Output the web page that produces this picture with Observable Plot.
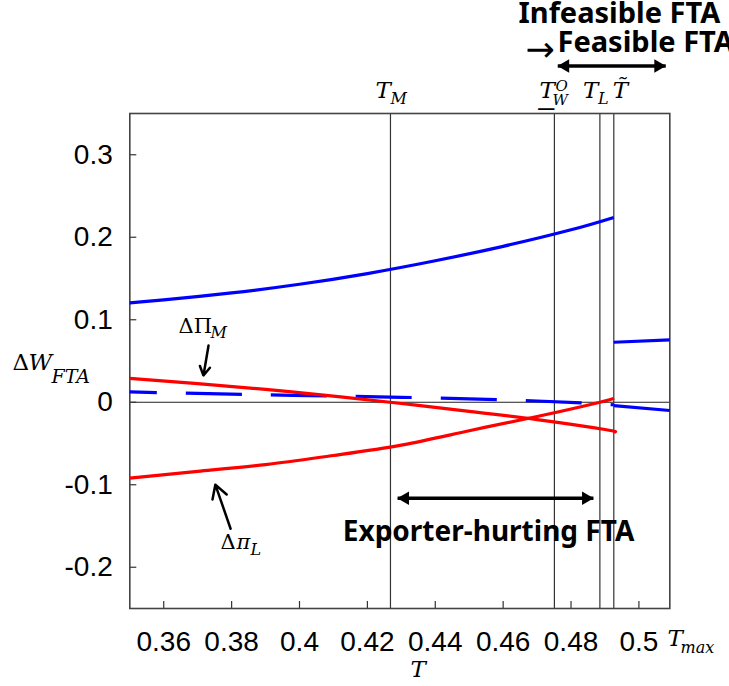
<!DOCTYPE html>
<html><head><meta charset="utf-8">
<script src="https://cdn.jsdelivr.net/npm/d3@7"></script>
<script src="https://cdn.jsdelivr.net/npm/@observablehq/plot@0.6"></script>
<style>body{margin:0;background:#fff;overflow:hidden}</style>
</head><body><div id="chart"></div>
<script>
// ---- thresholds on T ----
const T_M = 0.4268, T_WO = 0.4751, T_L = 0.4885, T_TILDE = 0.4926, T_MAX = 0.5091;
const vLines = [T_M, T_WO, T_L, T_TILDE];

// ---- ticks ----
const xTicks = [0.36, 0.38, 0.40, 0.42, 0.44, 0.46, 0.48, 0.50];
const xTickLabels = ["0.36", "0.38", "0.4", "0.42", "0.44", "0.46", "0.48", "0.5"];
const yTicks = [0.3, 0.2, 0.1, 0, -0.1, -0.2];
const yTickLabels = ["0.3", "0.2", "0.1", "0", "-0.1", "-0.2"];

// ---- series ----
const tWup = [0.35, 0.36, 0.38, 0.40, 0.42, 0.44, 0.46, 0.48, 0.4926];
const vWup = [0.1205, 0.124, 0.1325, 0.143, 0.156, 0.1715, 0.189, 0.209, 0.224];

const tPiM = [0.35, 0.37, 0.39, 0.41, 0.43, 0.45, 0.47, 0.49, 0.4926];
const vPiM = [0.029, 0.0225, 0.0155, 0.0075, -0.0015, -0.011, -0.021, -0.033, -0.036];

const tPiL = [0.35, 0.37, 0.39, 0.41, 0.43, 0.45, 0.47, 0.4885, 0.4926];
const vPiL = [-0.092, -0.0837, -0.0755, -0.0645, -0.052, -0.0345, -0.0173, 0.0, 0.005];

const tWdash = [0.35, 0.39, 0.43, 0.47, 0.4926];
const vWdash = [0.0125, 0.009, 0.006, 0.0015, -0.003];

const tWmid = [0.4926, 0.5091];
const vWmid = [0.0727, 0.0756];

const tWlow = [0.4926, 0.5091];
const vWlow = [-0.004, -0.010];

// ---- annotation anchors (data space) ----
const arrowPiM = [{x1: 0.3732, y1: 0.0687, x2: 0.3717, y2: 0.0324}];
const arrowPiL = [{x1: 0.3797, y1: -0.1533, x2: 0.3752, y2: -0.0999}];
const exporterArrow = {x1: 0.4289, x2: 0.4866, y: -0.1164};
const feasibleArrow = {x1: 0.4761, x2: 0.5079, y: 0.4075};

const rows = (ts, vs) => ts.map((t, i) => ({t, v: vs[i]}));

const W = 729, H = 686;
const mL = 129.3, mR = 59.7, mT = 113, mB = 78;
const serif = "'DejaVu Serif', serif";
const sans = "'Liberation Sans', Arial, sans-serif";
const boldSans = "'Noto Sans', 'Open Sans', sans-serif";

// free text positioned in pixels relative to the frame's top-left
const pl = (str, px, py, size, extra = {}) => Plot.text([0], {
  frameAnchor: "top-left", dx: px - mL, dy: py - mT, text: () => str,
  lineAnchor: "bottom", textAnchor: "start", fontSize: size,
  fontFamily: serif, fontStyle: "italic", fill: "black", ...extra
});
// text tied to a vertical threshold line, offsets relative to the frame top
const vl = (xv, str, dx, py, size, extra = {}) => Plot.text([xv], {
  x: d => d, frameAnchor: "top", dx, dy: py - mT, text: () => str,
  lineAnchor: "bottom", textAnchor: "start", fontSize: size,
  fontFamily: serif, fontStyle: "italic", fill: "black", ...extra
});

const dblArrow = (a) => [
  Plot.link([a], {x1: "x1", x2: "x2", y1: "y", y2: "y", stroke: "black", strokeWidth: 3.5}),
  Plot.dot([a], {x: "x1", y: "y", symbol: "triangle", r: 5, rotate: -90, fill: "black", stroke: "none", dx: 7.5}),
  Plot.dot([a], {x: "x2", y: "y", symbol: "triangle", r: 5, rotate: 90, fill: "black", stroke: "none", dx: -7.5})
];

const plot = Plot.plot({
  width: W, height: H,
  marginLeft: mL, marginRight: mR, marginTop: mT, marginBottom: mB,
  x: {domain: [0.35, T_MAX], axis: null},
  y: {domain: [-0.25, 0.35], axis: null},
  style: {background: "white", fontFamily: sans},
  marks: [
    Plot.ruleY([0], {stroke: "#222", strokeWidth: 1}),
    Plot.ruleX(vLines, {stroke: "#333", strokeWidth: 1.2}),
    Plot.tickX(xTicks, {x: d => d, insetTop: (H - mT - mB) - 7, stroke: "#333", strokeWidth: 1.2}),
    Plot.tickY(yTicks, {y: d => d, insetRight: (W - mL - mR) - 7, stroke: "#333", strokeWidth: 1.2}),
    Plot.frame({stroke: "#444", strokeWidth: 1.6}),

    Plot.line(rows(tWdash, vWdash), {x: "t", y: "v", stroke: "#0000ff", strokeWidth: 3.2,
      strokeDasharray: "56,29", strokeDashoffset: 29, strokeLinecap: "butt", curve: "natural"}),
    Plot.line(rows(tWup, vWup), {x: "t", y: "v", stroke: "#0000ff", strokeWidth: 3.2, curve: "natural", strokeLinecap: "butt"}),
    Plot.line(rows(tWmid, vWmid), {x: "t", y: "v", stroke: "#0000ff", strokeWidth: 3.2, strokeLinecap: "butt"}),
    Plot.line(rows(tWlow, vWlow), {x: "t", y: "v", stroke: "#0000ff", strokeWidth: 3.2, strokeLinecap: "butt"}),
    Plot.line(rows(tPiM, vPiM), {x: "t", y: "v", stroke: "#ff0000", strokeWidth: 3.2, curve: "natural", strokeLinecap: "butt"}),
    Plot.line(rows(tPiL, vPiL), {x: "t", y: "v", stroke: "#ff0000", strokeWidth: 3.2, curve: "natural", strokeLinecap: "butt"}),

    // tick labels
    Plot.text(xTicks, {x: d => d, text: (d, i) => xTickLabels[i], frameAnchor: "bottom", dy: 42,
      lineAnchor: "bottom", fontSize: 28, fontFamily: sans, fill: "black"}),
    Plot.text(yTicks, {y: d => d, text: (d, i) => yTickLabels[i], frameAnchor: "left", dx: -17,
      textAnchor: "end", lineAnchor: "middle", fontSize: 28, fontFamily: sans, fill: "black"}),

    // axis titles
    pl("T", 410, 676, 23),
    pl("T", 667, 645, 23),
    pl("max", 680, 652, 16),
    pl("Δ", 12, 369, 23, {fontStyle: "normal"}),
    pl("W", 28, 369, 23),
    pl("FTA", 51, 382, 19),

    // threshold labels
    vl(T_M, "T", -15, 97, 23),
    vl(T_M, "M", 0, 103, 16),
    vl(T_WO, "T", -15, 97, 23),
    vl(T_WO, "_", -16, 103, 28, {fontStyle: "normal", fontFamily: sans}),
    vl(T_WO, "W", -2, 104, 15),
    vl(T_WO, "O", 1, 90, 15),
    vl(T_L, "T", -17, 97, 23),
    vl(T_L, "L", -2, 103, 16),
    vl(T_TILDE, "T\u0303", -1, 97, 23),

    // curve labels
    pl("ΔΠ", 178, 332, 21, {fontStyle: "normal"}),
    pl("M", 210, 337, 16),
    pl("Δ", 220, 548, 21, {fontStyle: "normal"}),
    pl("π", 236, 548, 21),
    pl("L", 250, 554, 16),
    Plot.arrow(arrowPiM, {x1: "x1", y1: "y1", x2: "x2", y2: "y2", stroke: "black", strokeWidth: 2.5, headLength: 9}),
    Plot.arrow(arrowPiL, {x1: "x1", y1: "y1", x2: "x2", y2: "y2", stroke: "black", strokeWidth: 2.5, headLength: 9}),

    // region annotations
    ...dblArrow(exporterArrow),
    Plot.text([exporterArrow], {x: d => (d.x1 + d.x2) / 2, frameAnchor: "top", dx: -7, dy: 540 - mT, text: () => "Exporter-hurting FTA",
      lineAnchor: "bottom", fontSize: 28, fontWeight: "bold", fontFamily: boldSans, fill: "black"}),
    ...dblArrow(feasibleArrow),
    pl("Infeasible FTA", 518, 22, 29, {fontStyle: "normal", fontWeight: "bold", fontFamily: boldSans}),
    pl("→", 525, 60, 35, {fontStyle: "normal", fontFamily: "'DejaVu Sans', sans-serif"}),
    pl("Feasible FTA", 557, 51, 29, {fontStyle: "normal", fontWeight: "bold", fontFamily: boldSans})
  ]
});
document.getElementById("chart").appendChild(plot);
</script>
</body></html>
